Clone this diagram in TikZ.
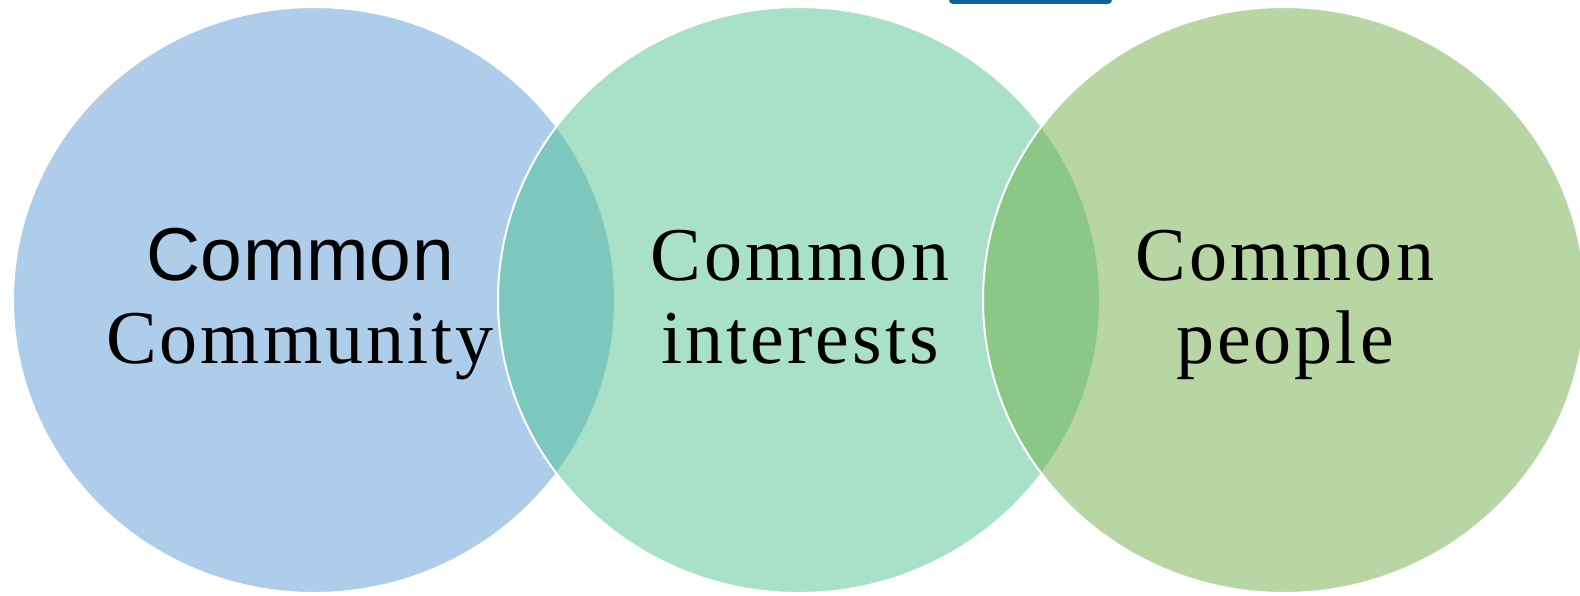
\documentclass[tikz,border=0pt]{standalone}
\usepackage{fontspec}
\setmainfont{Liberation Serif}
\newfontfamily\vennsans[LetterSpace=1]{Liberation Sans}
\newfontfamily\vennserif[LetterSpace=4]{Liberation Serif}
\definecolor{commblue}{RGB}{91,155,213}
\definecolor{intgreen}{RGB}{81,195,145}
\definecolor{pplgreen}{RGB}{112,173,71}
\definecolor{tabblue}{RGB}{14,98,150}
\tikzset{
  venn/.style={draw=white, line width=2pt, fill opacity=0.5},
  venntext/.style={align=center, text height=135pt, text depth=9pt, inner sep=0pt,
    font=\fontsize{76}{83}\vennserif}
}
\begin{document}
\begin{tikzpicture}[x=1pt, y=-1pt, line join=round]
    \useasboundingbox (0,0) rectangle (1580,596);
    \clip (0,0) rectangle (1580,596);

    \fill[tabblue, rounded corners=4pt] (949,-20) rectangle (1112,4);

    \foreach \x/\col in {314/commblue, 799/intgreen, 1284/pplgreen}
      \filldraw[venn, fill=\col] (\x,300) ellipse (301 and 293);

    \node[venntext] (comm) at (300,300) {{\fontsize{75}{83}\vennsans Common}\\Community};
    \node[venntext] (inter) at (800,300) {Common\\interests};
    \node[venntext] (ppl) at (1285,300) {Common\\people};
\end{tikzpicture}
\end{document}
